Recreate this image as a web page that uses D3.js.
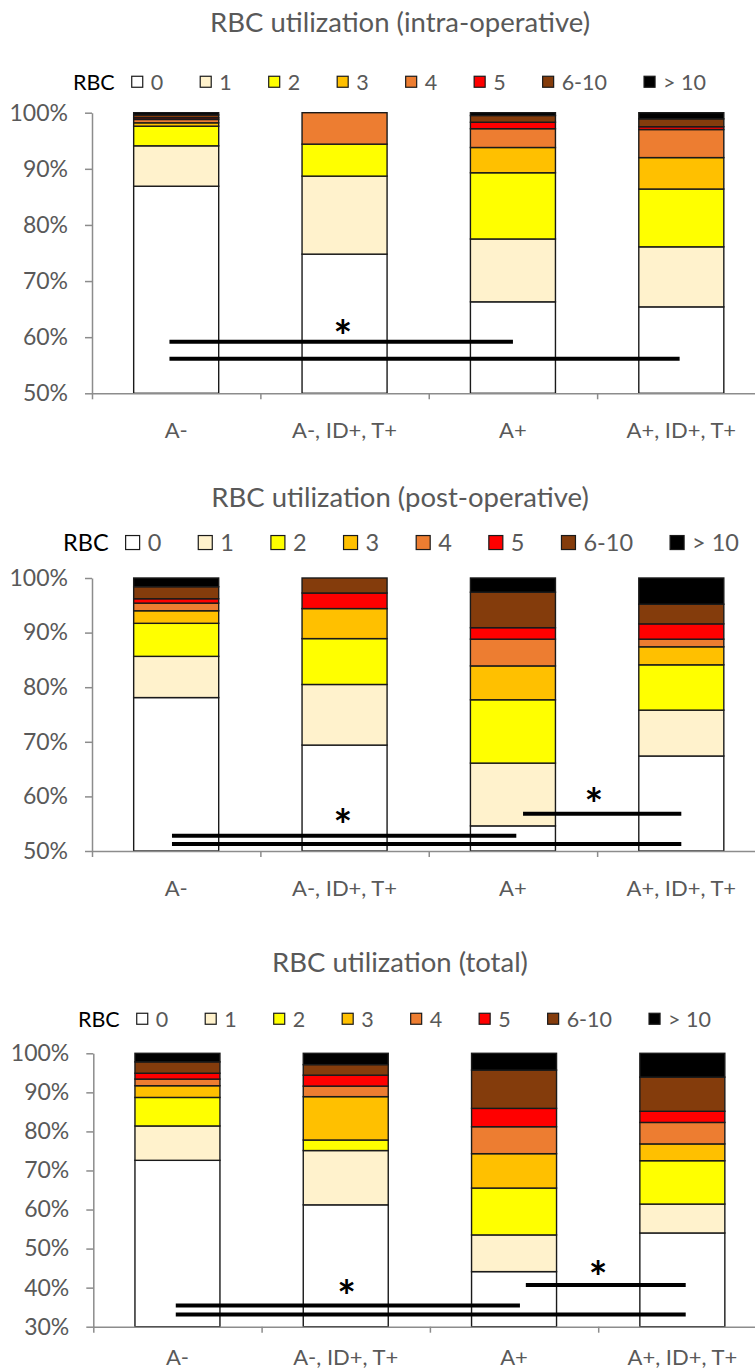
<!DOCTYPE html>
<html>
<head>
<meta charset="utf-8">
<script src="https://cdn.jsdelivr.net/npm/d3@7"></script>
<style>
  body { margin: 0; background: #fff; }
  svg { display: block; }
  text { font-family: Lato, "Open Sans", sans-serif; }
</style>
</head>
<body>
<div id="chart"></div>
<script>
// categories and RBC classes
var categories = ["A-", "A-, ID+, T+", "A+", "A+, ID+, T+"];
var rbcLevels = ["0", "1", "2", "3", "4", "5", "6-10", "> 10"];
var rbcColors = ["#FFFFFF", "#FFF2CC", "#FFFF00", "#FFC000", "#ED7D31", "#FF0000", "#843C0C", "#000000"];

// percent of patients per RBC class, one row per category
var intraOp = [
  [86.9, 7.2, 3.5, 0.6, 0.6, 0.3, 0.5, 0.4],
  [74.8, 13.9, 5.7, 0, 5.6, 0, 0, 0],
  [66.3, 11.2, 11.8, 4.5, 3.35, 1.15, 1.2, 0.5],
  [65.4, 10.7, 10.3, 5.6, 5.0, 0.5, 1.4, 1.1]
];
var postOp = [
  [78.1, 7.55, 6.05, 2.3, 1.4, 0.8, 2.2, 1.6],
  [69.4, 11.1, 8.4, 5.5, 0, 2.85, 2.75, 0],
  [54.6, 11.5, 11.6, 6.2, 4.9, 2.1, 6.5, 2.6],
  [67.4, 8.4, 8.3, 3.3, 1.4, 2.8, 3.6, 4.8]
];
var totalUse = [
  [72.6, 8.8, 7.3, 3.0, 1.7, 1.5, 2.9, 2.2],
  [61.2, 13.9, 2.7, 11.1, 2.7, 2.8, 2.7, 2.9],
  [44.1, 9.4, 12.0, 8.8, 6.9, 4.7, 9.8, 4.3],
  [54.0, 7.4, 11.1, 4.3, 5.5, 2.85, 8.75, 6.1]
];

var ticksIntra = [50, 60, 70, 80, 90, 100];
var ticksPost = [50, 60, 70, 80, 90, 100];
var ticksTotal = [30, 40, 50, 60, 70, 80, 90, 100];

// significance bars: from/to in category units, y in percent
var sigIntra = [{from: 0.46, to: 2.50, y: 59.2}, {from: 0.46, to: 3.49, y: 56.15}];
var sigPost = [{from: 0.475, to: 2.52, y: 52.8}, {from: 0.475, to: 3.50, y: 51.3}, {from: 2.56, to: 3.50, y: 56.8}];
var sigTotal = [{from: 0.49, to: 2.535, y: 35.4}, {from: 0.49, to: 3.52, y: 33.1}, {from: 2.57, to: 3.52, y: 40.7}];
var starsIntra = [{x: 1.49, y: 61.7}];
var starsPost = [{x: 1.49, y: 56.2}, {x: 2.98, y: 60.0}];
var starsTotal = [{x: 1.505, y: 39.9}, {x: 3.0, y: 44.7}];

var panels = [
  {title: "RBC utilization (intra-operative)", values: intraOp, ticks: ticksIntra, sig: sigIntra, stars: starsIntra,
   top: 112.7, bottom: 393.3, left: 92, right: 765.5, titleY: 32, titleFs: 27.5,
   legendY: 89.5, legendX: 73, legendFs: 21.5, box: 11, labelY: 438},
  {title: "RBC utilization (post-operative)", values: postOp, ticks: ticksPost, sig: sigPost, stars: starsPost,
   top: 578, bottom: 851, left: 92, right: 765.5, titleY: 507, titleFs: 27.5,
   legendY: 551, legendX: 63, legendFs: 23.5, box: 14, labelY: 896},
  {title: "RBC utilization (total)", values: totalUse, ticks: ticksTotal, sig: sigTotal, stars: starsTotal,
   top: 1053.3, bottom: 1326.7, left: 93.3, right: 766.5, titleY: 972, titleFs: 27.5,
   legendY: 1026.5, legendX: 78, legendFs: 21.5, box: 11, labelY: 1365}
];

var svg = d3.select("#chart").append("svg")
  .attr("width", 755)
  .attr("height", 1371);

panels.forEach(drawPanel);

function drawPanel(p) {
  var g = svg.append("g");

  var x = d3.scaleBand()
    .domain(categories)
    .range([p.left, p.right])
    .paddingInner(0.495)
    .paddingOuter(0.2475);

  var xPos = d3.scaleLinear()
    .domain([0, categories.length])
    .range([p.left, p.right]);

  var y = d3.scaleLinear()
    .domain([p.ticks[0], 100])
    .range([p.bottom, p.top])
    .clamp(true);

  var rows = categories.map(function(c, i) {
    var o = {cat: c};
    rbcLevels.forEach(function(k, j) { o[k] = p.values[i][j]; });
    return o;
  });

  var series = d3.stack().keys(rbcLevels)(rows);

  // title
  g.append("text")
    .attr("x", 400)
    .attr("y", p.titleY)
    .attr("text-anchor", "middle")
    .style("font-size", p.titleFs + "px")
    .style("fill", "#595959")
    .text(p.title);

  // stacked bars
  g.append("g")
    .selectAll("g")
    .data(series)
    .enter()
    .append("g")
    .attr("fill", function(d, i) { return rbcColors[i]; })
    .selectAll("rect")
    .data(function(d) { return d.filter(function(s) { return s[1] - s[0] > 0; }); })
    .enter()
    .append("rect")
    .attr("x", function(d) { return x(d.data.cat); })
    .attr("width", x.bandwidth())
    .attr("y", function(d) { return y(d[1]); })
    .attr("height", function(d) { return y(d[0]) - y(d[1]); })
    .attr("stroke", "#1a1a1a")
    .attr("stroke-width", 1.4);

  // y axis
  var yAxis = g.append("g")
    .attr("transform", "translate(" + p.left + ",0)")
    .call(d3.axisLeft(y).tickValues(p.ticks).tickFormat(function(d) { return d + "%"; })
      .tickSize(7).tickSizeOuter(0).tickPadding(17));
  yAxis.select(".domain").attr("stroke", "#8c8c8c").attr("stroke-width", 1.5);
  yAxis.selectAll(".tick line").attr("stroke", "#8c8c8c").attr("stroke-width", 1.5);
  yAxis.selectAll(".tick text")
    .style("font-size", "23px")
    .style("font-family", "Lato, sans-serif")
    .attr("fill", "#595959");

  // x axis: ticks between categories
  var xAxis = g.append("g")
    .attr("transform", "translate(0," + p.bottom + ")")
    .call(d3.axisBottom(xPos).tickValues(d3.range(categories.length + 1)).tickFormat("")
      .tickSize(6).tickSizeOuter(0));
  xAxis.select(".domain").attr("stroke", "#8c8c8c").attr("stroke-width", 1.5);
  xAxis.selectAll(".tick line").attr("stroke", "#8c8c8c").attr("stroke-width", 1.5);

  g.append("g")
    .selectAll("text")
    .data(categories)
    .enter()
    .append("text")
    .attr("x", function(d) { return x(d) + x.bandwidth() / 2; })
    .attr("y", p.labelY)
    .attr("text-anchor", "middle")
    .style("font-size", "22px")
    .style("fill", "#595959")
    .text(function(d) { return d; });

  // significance lines
  g.append("g")
    .selectAll("line")
    .data(p.sig)
    .enter()
    .append("line")
    .attr("x1", function(d) { return xPos(d.from); })
    .attr("x2", function(d) { return xPos(d.to); })
    .attr("y1", function(d) { return y(d.y); })
    .attr("y2", function(d) { return y(d.y); })
    .attr("stroke", "#000")
    .attr("stroke-width", 4);

  g.append("g")
    .selectAll("text")
    .data(p.stars)
    .enter()
    .append("text")
    .attr("x", function(d) { return xPos(d.x); })
    .attr("y", function(d) { return y(d.y) + 24; })
    .attr("text-anchor", "middle")
    .style("font-size", "44px")
    .style("font-weight", "bold")
    .style("fill", "#000")
    .text("*");

  // legend
  var leg = g.append("g");
  var rbcLabel = leg.append("text")
    .attr("x", p.legendX)
    .attr("y", p.legendY)
    .style("font-size", p.legendFs + "px")
    .style("fill", "#000")
    .text("RBC");
  var cx = p.legendX + rbcLabel.node().getComputedTextLength() + 17;
  rbcLevels.forEach(function(k, i) {
    leg.append("rect")
      .attr("x", cx)
      .attr("y", p.legendY - p.legendFs * 0.36 - p.box / 2)
      .attr("width", p.box)
      .attr("height", p.box)
      .attr("fill", rbcColors[i])
      .attr("stroke", "#1a1a1a")
      .attr("stroke-width", 1.2);
    var t = leg.append("text")
      .attr("x", cx + p.box + 8)
      .attr("y", p.legendY)
      .style("font-size", p.legendFs + "px")
      .style("fill", "#595959")
      .text(k);
    cx += p.box + 8 + t.node().getComputedTextLength() + 37;
  });
}
</script>
</body>
</html>
